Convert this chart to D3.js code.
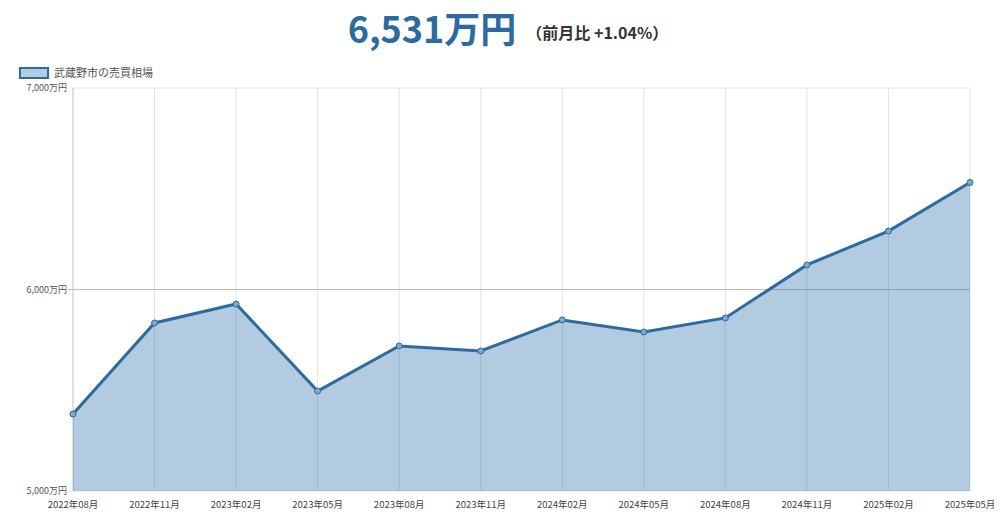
<!DOCTYPE html><html><head><meta charset="utf-8">
<script src="https://cdn.jsdelivr.net/npm/d3@7"></script>
<style>body{margin:0;background:#fff;font-family:"Noto Sans CJK JP","Noto Sans",sans-serif}</style></head><body>
<svg id="c" width="1000" height="519"></svg>
<script>
const categories=["2022年08月","2022年11月","2023年02月","2023年05月","2023年08月","2023年11月","2024年02月","2024年05月","2024年08月","2024年11月","2025年02月","2025年05月"];
const values=[5382,5834,5928,5496,5720,5695,5849,5789,5859,6122,6290,6531];
const yTicks=[5000,6000,7000];
const svg=d3.select("#c");
const L=73,R=970,T=88,B=491;
const x=d3.scalePoint().domain(categories).range([L,R]);
const y=d3.scaleLinear().domain([5000,7000]).range([B,T]);
// grid
svg.append("g").selectAll("line").data(categories).join("line")
 .attr("x1",d=>x(d)).attr("x2",d=>x(d)).attr("y1",T).attr("y2",B).attr("stroke","#e3e3e3");
svg.append("g").selectAll("line").data(yTicks).join("line")
 .attr("x1",L-5).attr("x2",R).attr("y1",d=>y(d)).attr("y2",d=>y(d)).attr("stroke",d=>d===6000?"#bbb":"#e3e3e3");
svg.append("line").attr("x1",L).attr("x2",L).attr("y1",T).attr("y2",B).attr("stroke","#ccc");
// area & line
const area=d3.area().x((d,i)=>x(categories[i])).y0(B).y1(d=>y(d));
svg.append("path").datum(values).attr("d",area).attr("fill","rgba(44,110,168,0.36)");
const line=d3.line().x((d,i)=>x(categories[i])).y(d=>y(d));
svg.append("path").datum(values).attr("d",line).attr("fill","none").attr("stroke","#2d6a9f").attr("stroke-width",3);
svg.append("g").selectAll("circle").data(values).join("circle")
 .attr("cx",(d,i)=>x(categories[i])).attr("cy",d=>y(d)).attr("r",3)
 .attr("fill","#7ea9cf").attr("stroke","#2d6a9f").attr("stroke-width",1);
// axes labels
svg.append("g").selectAll("text").data(yTicks).join("text")
 .attr("x",L-6).attr("y",d=>y(d)+3).attr("text-anchor","end").attr("font-size",9).attr("fill","#555")
 .text(d=>d3.format(",")(d)+"万円");
svg.append("g").selectAll("text").data(categories).join("text")
 .attr("x",d=>x(d)).attr("y",508).attr("text-anchor","middle").attr("font-size",9.5).attr("fill","#444").text(d=>d);
// legend
svg.append("rect").attr("x",20).attr("y",68).attr("width",28).attr("height",10).attr("fill","#b2cce1").attr("stroke","#2d6a9f").attr("stroke-width",2);
svg.append("text").attr("x",54).attr("y",77).attr("font-size",11).attr("fill","#555").text("武蔵野市の売買相場");
// title
const t=svg.append("text").attr("x",508).attr("y",43).attr("text-anchor","middle");
t.append("tspan").attr("font-size",36).attr("font-weight","bold").attr("fill","#2d6a9f").text("6,531万円");
t.append("tspan").attr("font-size",16).attr("font-weight","bold").attr("fill","#333").attr("dx",10).attr("dy",-4).text("（前月比 +1.04%）");
</script></body></html>
